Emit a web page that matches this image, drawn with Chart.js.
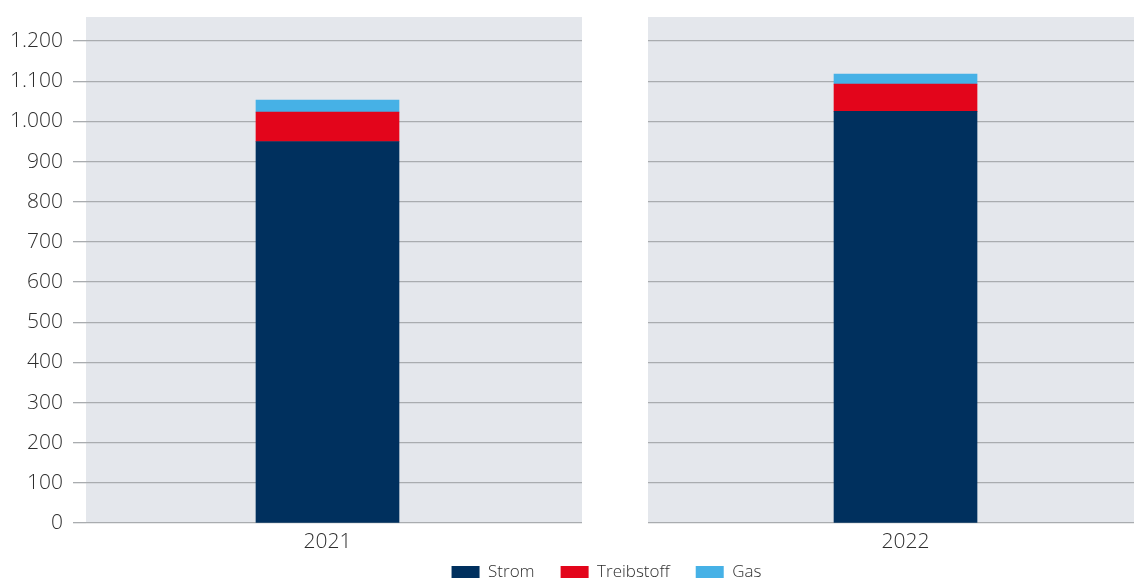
<!DOCTYPE html>
<html>
<head>
<meta charset="utf-8">
<script src="https://cdn.jsdelivr.net/npm/chart.js@4/dist/chart.umd.min.js"></script>
<style>
  html, body { margin: 0; padding: 0; background: #fff; }
  #wrap { width: 1134px; height: 579px; }
</style>
</head>
<body>
<div id="wrap"><canvas id="chart" width="1134" height="579"></canvas></div>
<script>
const years = [2021, 2022];
const strom = [950, 1025];
const treibstoff = [73, 68];
const gas = [30, 25];
const yTickValues = [0, 100, 200, 300, 400, 500, 600, 700, 800, 900, 1000, 1100, 1200];

const textColor = "#2e2e2e";
const gridColor = "#a9acaf";

// grey panels, one per year, with a white gap between them
const panels = {
  id: "panels",
  afterLayout(chart) {
    // legend sits close under the axis and is centred on the plot, not the canvas
    const lg = chart.legend;
    if (lg) {
      lg.top -= 17.5;
      lg.bottom -= 17.5;
      lg.left += 39.5;
      lg.right += 39.5;
    }
  },
  beforeDraw(chart) {
    const a = chart.chartArea;
    const ctx = chart.ctx;
    ctx.save();
    ctx.fillStyle = "#e4e7ec";
    ctx.fillRect(a.left, a.top, a.right - a.left, a.bottom - a.top);
    ctx.restore();
  },
  beforeDatasetsDraw(chart) {
    const a = chart.chartArea;
    const x = chart.scales.x;
    const ctx = chart.ctx;
    const g0 = x.getPixelForValue(2021.4403);
    const g1 = x.getPixelForValue(2021.5545);
    ctx.save();
    ctx.fillStyle = "#ffffff";
    ctx.fillRect(g0, a.top - 1, g1 - g0, a.bottom - a.top + 4);
    ctx.restore();
  }
};

function toPoints(vals) {
  return years.map((y, i) => ({ x: y, y: vals[i] }));
}

function deNumber(v) {
  return String(v).replace(/\B(?=(\d{3})+(?!\d))/g, ".");
}

const font = { family: "'Open Sans', 'Noto Sans', sans-serif", weight: 300 };

new Chart(document.getElementById("chart"), {
  type: "bar",
  data: {
    datasets: [
      { label: "Strom", data: toPoints(strom), backgroundColor: "#00305e" },
      { label: "Treibstoff", data: toPoints(treibstoff), backgroundColor: "#e3051b" },
      { label: "Gas", data: toPoints(gas), backgroundColor: "#46b1e6" },
    ],
  },
  options: {
    responsive: false,
    animation: false,
    barThickness: 143,
    layout: { padding: { top: 17, right: 0, bottom: -29, left: 0 } },
    plugins: {
      tooltip: { enabled: false },
      legend: {
        position: "bottom",
        labels: {
          color: textColor,
          font: { ...font, size: 17 },
          boxWidth: 28,
          boxHeight: 12,
          padding: 26,
        },
      },
    },
    scales: {
      x: {
        type: "linear",
        stacked: true,
        offset: false,
        min: 2020.5822,
        max: 2022.3953,
        afterBuildTicks: (scale) => {
          scale.ticks = years.map((v) => ({ value: v }));
        },
        afterFit: (scale) => {
          scale.height = 32;
        },
        ticks: {
          color: textColor,
          font: { ...font, size: 21 },
          padding: 6,
          maxRotation: 0,
          callback: (v) => String(v),
        },
        grid: { display: false, drawTicks: false },
        border: { display: false },
      },
      y: {
        stacked: true,
        min: 0,
        max: 1260,
        afterBuildTicks: (scale) => {
          scale.ticks = yTickValues.map((v) => ({ value: v }));
        },
        afterFit: (scale) => {
          scale.width = 86;
        },
        ticks: {
          color: textColor,
          font: { ...font, size: 21, lineHeight: 0.6 },
          padding: 10,
          callback: (v) => deNumber(v),
        },
        grid: {
          color: gridColor,
          lineWidth: 1.3,
          tickLength: 13,
          tickColor: gridColor,
        },
        border: { display: false },
      },
    },
  },
  plugins: [panels],
});
</script>
</body>
</html>
